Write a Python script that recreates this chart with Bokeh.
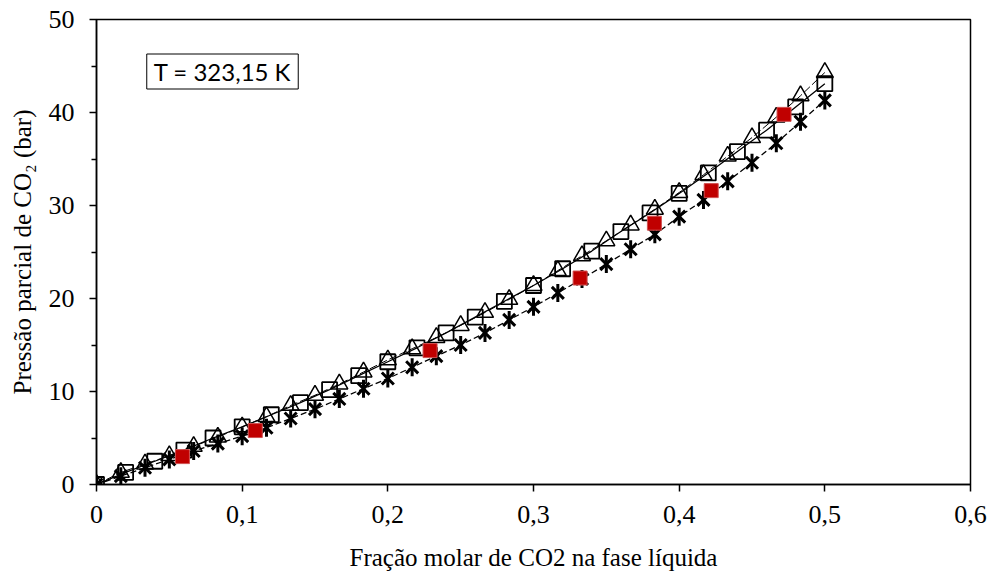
from bokeh.plotting import figure
from bokeh.models import FixedTicker, Range1d, Label
from bokeh.embed import file_html
from bokeh.resources import INLINE

# ---- data ----
x_tri_star = [0, 0.0167, 0.0333, 0.05, 0.0667, 0.0833, 0.1, 0.1167, 0.1333, 0.15,
              0.1667, 0.1833, 0.2, 0.2167, 0.2333, 0.25, 0.2667, 0.2833, 0.3, 0.3167,
              0.3333, 0.35, 0.3667, 0.3833, 0.4, 0.4167, 0.4333, 0.45, 0.4667, 0.4833, 0.5]
y_tri = [0, 1.3, 2.2, 3.1, 4.1, 5.1, 6.2, 7.3, 8.5, 9.6,
         10.8, 12.1, 13.4, 14.6, 15.8, 17.1, 18.5, 19.9, 21.4, 23.0,
         24.6, 26.2, 27.9, 29.6, 31.4, 33.3, 35.3, 37.3, 39.5, 41.8, 44.3]
y_star = [0, 0.9, 1.8, 2.7, 3.6, 4.4, 5.2, 6.1, 7.1, 8.1,
          9.2, 10.3, 11.4, 12.6, 13.8, 15.0, 16.3, 17.7, 19.1, 20.6,
          22.1, 23.7, 25.3, 26.9, 28.8, 30.6, 32.6, 34.6, 36.7, 39.0, 41.3]
x_sq = [0, 0.02, 0.04, 0.06, 0.08, 0.10, 0.12, 0.14, 0.16, 0.18, 0.20, 0.22, 0.24,
        0.26, 0.28, 0.30, 0.32, 0.34, 0.36, 0.38, 0.40, 0.42, 0.44, 0.46, 0.48, 0.50]
y_sq = [0, 1.3, 2.5, 3.7, 5.0, 6.2, 7.5, 8.8, 10.2, 11.7, 13.2, 14.7, 16.3,
        18.0, 19.7, 21.4, 23.2, 25.1, 27.2, 29.2, 31.3, 33.5, 35.8, 38.1, 40.6, 43.1]
x_exp = [0.059, 0.109, 0.229, 0.332, 0.383, 0.422, 0.472]
y_exp = [3.0, 5.8, 14.4, 22.2, 28.1, 31.6, 39.8]

x_ticks = [0, 0.1, 0.2, 0.3, 0.4, 0.5, 0.6]
x_tick_labels = ["0", "0,1", "0,2", "0,3", "0,4", "0,5", "0,6"]
y_ticks = [0, 10, 20, 30, 40, 50]
y_minor = [5, 15, 25, 35, 45]
annot = "T = 323,15 K"

SERIF = "'Liberation Serif', 'Times New Roman', serif"

p = figure(width=994, height=575, output_backend="svg", toolbar_location=None,
           x_range=Range1d(0, 0.6), y_range=Range1d(0, 50),
           min_border_left=96, min_border_right=24, min_border_top=19, min_border_bottom=91)
p.background_fill_color = "white"
p.border_fill_color = "white"
p.grid.visible = False
p.outline_line_color = "black"
p.outline_line_width = 1.5

p.xaxis.ticker = FixedTicker(ticks=x_ticks)
p.xaxis.major_label_overrides = {t: l for t, l in zip(x_ticks, x_tick_labels)}
p.yaxis.ticker = FixedTicker(ticks=y_ticks, minor_ticks=y_minor)
for ax in (p.xaxis[0], p.yaxis[0]):
    ax.axis_line_color = "black"
    ax.axis_line_width = 1.5
    ax.major_tick_line_color = "black"
    ax.major_tick_line_width = 1.5
    ax.major_tick_in = 0
    ax.major_tick_out = 7
    ax.minor_tick_in = 0
    ax.minor_tick_out = 5
    ax.minor_tick_line_width = 1.5
    ax.major_label_text_font = SERIF
    ax.major_label_text_font_size = "26px"
    ax.major_label_text_color = "black"
    ax.axis_label_text_font = SERIF
    ax.axis_label_text_font_size = "25px"
    ax.axis_label_text_font_style = "normal"
    ax.axis_label_text_color = "black"
p.xaxis.minor_tick_line_color = None
p.xaxis.major_label_standoff = 14
p.yaxis.major_label_standoff = 15
p.xaxis.axis_label = "Fração molar de CO2 na fase líquida"
p.yaxis.axis_label = "Pressão parcial de CO₂ (bar)"
p.xaxis.axis_label_standoff = 18
p.yaxis.axis_label_standoff = 10

# lines
p.line(x_sq, y_sq, line_color="black", line_width=1.3)
p.line(x_tri_star, y_tri, line_color="black", line_width=1, line_dash="8 3")
p.line(x_tri_star, y_star, line_color="black", line_width=1.3, line_dash="6 3")

# markers
p.scatter(x_sq, y_sq, marker="square", size=15, fill_color=None, line_color="black", line_width=1.8)
p.scatter(x_tri_star, y_tri, marker="triangle", size=17, fill_color=None, line_color="black", line_width=1.5)
p.scatter(x_tri_star, y_star, marker="x", size=17, line_color="black", line_width=3)
p.scatter(x_tri_star, y_star, marker="dash", angle=1.5708, size=18, line_color="black", line_width=3)
p.scatter(x_exp, y_exp, marker="square", size=14, fill_color="#C00000", line_color="#D05050", line_width=1)

lab = Label(x=126, y=575 - 91 - 71, x_units="screen", y_units="screen", text=annot,
            text_font="Lato", text_font_size="24px", text_color="black",
            text_align="center", text_baseline="middle",
            border_line_color="black", border_line_width=1, background_fill_color="white",
            padding=(7, 3))
p.add_layout(lab)

open("out.html", "w").write(file_html(p, INLINE))
